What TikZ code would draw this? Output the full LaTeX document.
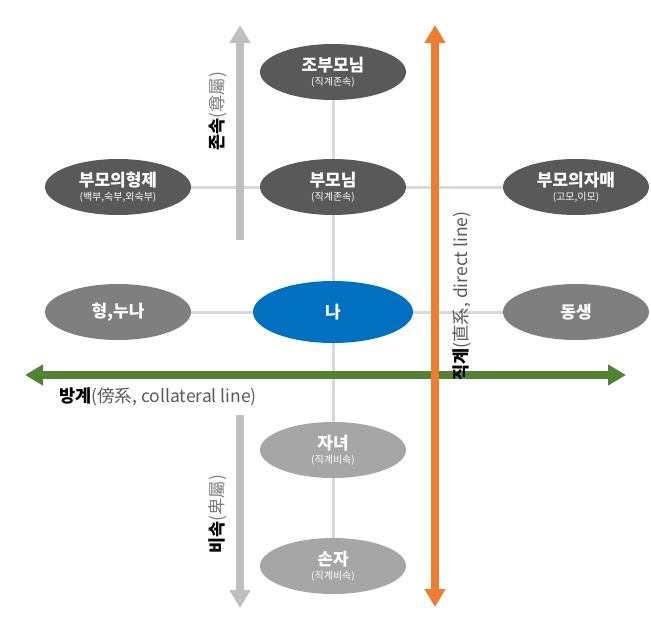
\documentclass[tikz,border=0pt]{standalone}
\usepackage{fontspec}
\setmainfont{Noto Sans CJK KR}
\usetikzlibrary{arrows.meta,shapes.geometric,backgrounds}
\definecolor{dk}{HTML}{595959}
\definecolor{md}{HTML}{7F7F7F}
\definecolor{lt}{HTML}{A6A6A6}
\definecolor{bl}{HTML}{0070C0}
\definecolor{ln}{HTML}{D9D9D9}
\definecolor{ga}{HTML}{BFBFBF}
\definecolor{og}{HTML}{ED7D31}
\definecolor{gr}{HTML}{548235}
\newcommand{\sublbl}[1]{\\[-3pt]\mdseries\fontsize{10}{11}\selectfont #1}
\begin{document}
\begin{tikzpicture}[x=1pt,y=-1pt,
 per/.style={ellipse,fill=#1,text=white,minimum width=146pt,minimum height=56pt,inner sep=0pt,align=center,font=\bfseries\fontsize{17}{17}\selectfont},
 conn/.style={ln,line width=3pt},
 tip/.style={-{Triangle[length=18pt,width=20pt]}},
 tips/.style={{Triangle[length=18pt,width=20pt]}-{Triangle[length=18pt,width=20pt]}},
 axlabel/.style={font=\fontsize{17.5}{17.5}\selectfont,inner sep=1pt},
]
\useasboundingbox (0,0) rectangle (651,635);
\node[per=dk] (gp) at (333,72) {조부모님\sublbl{(직계존속)}};
\node[per=dk] (p) at (333,187) {부모님\sublbl{(직계존속)}};
\node[per=dk] (pb) at (118,187) {부모의형제\sublbl{(백부,숙부,외숙부)}};
\node[per=dk] (ps) at (576,187) {부모의자매\sublbl{(고모,이모)}};
\node[per=md] (hn) at (118,312) {형,누나};
\node[per=bl,minimum width=160pt,minimum height=62pt] (me) at (333,312) {나};
\node[per=md] (ds) at (576,312) {동생};
\node[per=lt] (ch) at (333,450) {자녀\sublbl{(직계비속)}};
\node[per=lt] (gc) at (333,566) {손자\sublbl{(직계비속)}};
\coordinate (ua0) at (240,240); \coordinate (ua1) at (240,25);
\coordinate (da0) at (240,415); \coordinate (da1) at (240,608);
\coordinate (oa0) at (435,607); \coordinate (oa1) at (435,25);
\coordinate (ga0) at (25,375); \coordinate (ga1) at (626,375);
\begin{scope}[on background layer]
\draw[conn] (gp.center) -- (gc.center);
\draw[conn] (pb.center) -- (ps.center);
\draw[conn] (hn.center) -- (ds.center);
\draw[ga,line width=8pt,tip] (ua0) -- (ua1);
\draw[ga,line width=8pt,tip] (da0) -- (da1);
\draw[gr,line width=8pt,tips] (ga0) -- (ga1);
\draw[og,line width=8pt,tips] (oa0) -- (oa1);
\end{scope}
\node[axlabel,rotate=90,anchor=west] (zs) at (218,152) {\textbf{존속}\textcolor{md}{(尊屬)}};
\node[axlabel,rotate=90,anchor=west] (bs) at (218,555) {\textbf{비속}\textcolor{md}{(卑屬)}};
\node[axlabel,rotate=90,anchor=west] (jg) at (462,382) {\textbf{직계}\textcolor{dk}{(直系, direct line)}};
\node[axlabel,anchor=west] (bg) at (58,397) {\textbf{방계}\textcolor{dk}{(傍系, collateral line)}};
\end{tikzpicture}
\end{document}
